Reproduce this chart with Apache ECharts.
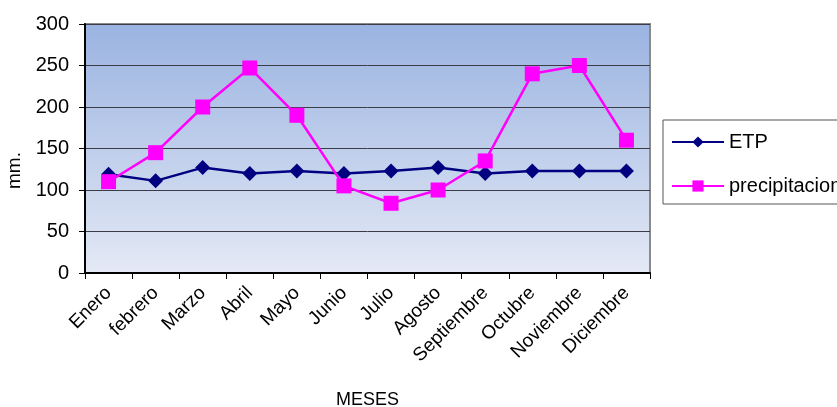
<!DOCTYPE html>
<html>
<head>
<meta charset="utf-8">
<script src="https://cdn.jsdelivr.net/npm/echarts@6/dist/echarts.min.js"></script>
<style>
  html, body { margin: 0; padding: 0; background: #ffffff; }
  #chart { width: 837px; height: 407px; }
</style>
</head>
<body>
<div id="chart"></div>
<script>
// Monthly evapotranspiration (ETP) and rainfall, in mm.
const meses = ['Enero', 'febrero', 'Marzo', 'Abril', 'Mayo', 'Junio', 'Julio',
               'Agosto', 'Septiembre', 'Octubre', 'Noviembre', 'Diciembre'];
const etp = [119, 111, 127, 120, 123, 120, 123, 127, 120, 123, 123, 123];
const precipitacion = [110, 145, 200, 247, 190, 105, 84, 100, 135, 240, 250, 160];
const yTicks = [0, 50, 100, 150, 200, 250, 300];

const FONT = 'Liberation Sans, Arial, sans-serif';
const chart = echarts.init(document.getElementById('chart'));

chart.setOption({
  animation: false,
  textStyle: { fontFamily: FONT },
  grid: {
    left: 85, right: 187, top: 24, bottom: 134,
    containLabel: false,
    outerBoundsMode: 'none',
    show: true,
    borderColor: '#8a8a8a',
    borderWidth: 2,
    backgroundColor: new echarts.graphic.LinearGradient(0, 0, 0, 1, [
      { offset: 0, color: '#9ab3e1' },
      { offset: 1, color: '#e4e9f5' }
    ])
  },
  legend: {
    orient: 'vertical',
    left: 663, top: 120,
    padding: [12, 40, 8, 8],
    itemGap: 24,
    itemWidth: 52, itemHeight: 14,
    borderColor: '#555555', borderWidth: 1,
    backgroundColor: '#ffffff',
    textStyle: { fontSize: 20, color: '#000000', fontFamily: FONT },
    data: ['ETP', 'precipitacion']
  },
  xAxis: {
    type: 'category',
    data: meses,
    boundaryGap: true,
    name: 'MESES',
    nameLocation: 'middle',
    nameGap: 118,
    nameTextStyle: { fontSize: 18, color: '#000', fontFamily: FONT },
    axisLine: { lineStyle: { color: '#000', width: 2 } },
    axisTick: { show: true, length: 6, inside: false, lineStyle: { color: '#000' } },
    axisLabel: { rotate: 45, fontSize: 19, color: '#000', margin: 17, fontFamily: FONT, interval: 0 }
  },
  yAxis: {
    type: 'value',
    min: yTicks[0], max: yTicks[yTicks.length - 1], interval: 50,
    name: 'mm.',
    nameLocation: 'middle',
    nameRotate: 90,
    nameGap: 57,
    nameTextStyle: { fontSize: 19, color: '#000', fontFamily: FONT, padding: [0, 44, 0, 0] },
    axisLine: { show: true, lineStyle: { color: '#000', width: 2 } },
    axisTick: { show: true, length: 6, lineStyle: { color: '#000' } },
    axisLabel: { fontSize: 20, color: '#000', margin: 16, fontFamily: FONT },
    splitLine: { show: true, lineStyle: { color: '#3c3c46', width: 1 } }
  },
  series: [
    {
      name: 'ETP',
      type: 'line',
      data: etp,
      symbol: 'diamond',
      symbolSize: 15,
      color: '#000080',
      lineStyle: { color: '#000080', width: 2.5 },
      itemStyle: { color: '#000080' },
      z: 3
    },
    {
      name: 'precipitacion',
      type: 'line',
      data: precipitacion,
      symbol: 'rect',
      symbolSize: 15,
      color: '#ff00ff',
      lineStyle: { color: '#ff00ff', width: 2.5 },
      itemStyle: { color: '#ff00ff' },
      z: 4
    }
  ]
});
</script>
</body>
</html>
